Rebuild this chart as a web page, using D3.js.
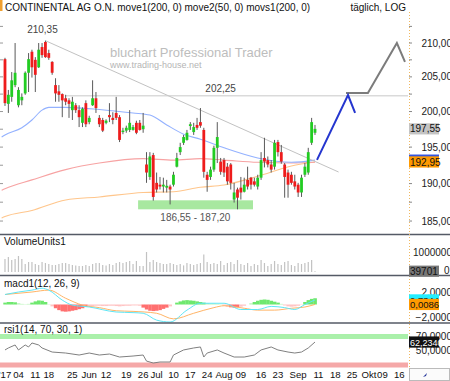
<!DOCTYPE html>
<html><head><meta charset="utf-8">
<script src="https://cdn.jsdelivr.net/npm/d3@7"></script>
<style>body{margin:0;background:#fff}svg{display:block;font-family:"Liberation Sans",Arial,sans-serif}</style>
</head><body><svg id="c" width="450" height="381"></svg>
<script>
const titleText = "CONTINENTAL AG O.N. move1(200, 0) move2(50, 0) movs1(200, 0)";
const modeText = "täglich, LOG";
const watermark1 = "bluchart Professional Trader";
const watermark2 = "www.trading-house.net";

const open  = [207.6,201.1,202.1,203.8,200.9,201.6,202.6,205.6,208.7,207.5,206.4,209.4,210.15,208.5,207.2,203.8,202.9,202.5,201.9,201.6,200.2,200.9,200.2,198.4,201.2,198.5,200.9,201.9,199.1,198.8,198.4,199.5,199.1,199.8,199.2,197.1,197.3,197.4,197.4,198.4,198.4,197.5,192.6,190.9,193.9,190.1,189.85,189.6,189.45,189.6,189.85,192.3,194.3,195.6,196.0,197.95,197.1,198.1,198.5,197.4,191.2,190.9,191.9,194.9,193.0,193.2,192.3,192.6,187.85,189.2,189.45,188.9,190.5,190.8,190.3,189.6,190.8,193.5,193.2,192.6,192.3,195.7,194.3,192.6,191.5,191.2,190.3,189.85,188.8,191.2,191.5,195.6,197.0];
const high  = [207.8,203.1,205.7,210.0,203.5,202.6,205.8,208.5,209.0,207.9,210.0,210.0,210.35,209.0,207.3,204.8,203.8,202.6,202.4,201.9,202.1,201.2,200.9,200.6,201.6,199.4,204.5,202.8,199.5,199.1,198.9,201.2,199.9,202.1,199.5,197.7,198.0,200.2,198.1,198.7,198.8,199.8,194.3,194.3,194.2,191.5,190.9,190.8,190.5,189.85,191.6,194.2,195.6,196.7,197.4,198.5,198.4,199.1,200.5,197.7,191.6,192.3,195.2,198.5,193.5,193.5,192.8,192.8,190.1,189.45,190.9,190.8,192.3,190.9,190.8,191.2,194.3,196.3,193.7,193.2,196.0,196.0,195.3,192.8,191.9,191.6,191.2,190.1,191.2,192.8,194.9,199.1,198.1];
const low   = [200.8,199.8,201.4,203.5,200.6,200.9,202.4,202.8,204.9,202.8,206.3,207.8,207.8,207.5,205.3,201.4,201.4,199.2,200.9,199.1,198.8,199.8,197.8,197.8,197.8,198.2,200.8,199.8,197.8,197.1,198.2,198.5,198.2,198.8,195.7,196.8,197.0,197.1,197.3,196.8,197.3,197.0,190.1,190.5,187.7,188.8,189.2,188.8,188.8,187.2,189.6,192.2,193.9,195.3,195.9,197.4,196.7,197.4,197.7,190.8,188.9,190.5,191.6,192.8,191.2,190.9,189.85,189.2,187.45,186.55,187.85,188.8,189.2,189.2,189.6,189.2,190.5,192.2,192.2,191.5,191.9,193.7,192.7,188.1,188.1,189.85,189.2,188.2,188.2,190.9,191.2,195.3,196.7];
const close = [201.2,202.4,204.5,205.6,203.1,202.1,205.6,207.6,206.4,205.3,209.0,208.2,207.9,207.8,205.6,202.6,202.4,201.6,201.4,201.1,201.4,200.2,199.2,200.4,198.2,199.1,201.9,200.5,198.2,197.3,198.7,199.2,198.8,199.1,196.0,197.3,197.7,198.4,197.8,197.0,197.4,198.0,191.5,193.7,188.2,189.2,189.6,189.85,189.7,189.2,191.2,193.5,195.0,196.4,197.0,198.2,197.8,197.7,198.0,191.6,190.5,191.9,194.9,196.4,191.6,191.5,190.3,190.1,188.8,188.1,188.8,189.85,189.6,189.85,189.85,190.8,193.2,193.0,192.6,191.9,195.6,194.3,193.0,190.9,189.85,190.1,189.6,188.8,190.8,192.3,194.3,198.5,197.55];
const volume = [650000,750000,600000,650000,800000,650000,400000,500000,500000,400000,350000,500000,450000,400000,350000,350000,400000,450000,450000,400000,350000,330000,300000,300000,350000,300000,400000,450000,450000,350000,330000,400000,350000,450000,500000,450000,500000,550000,400000,550000,300000,300000,1000000,500000,600000,500000,450000,400000,400000,450000,400000,350000,400000,330000,450000,400000,350000,400000,450000,870000,500000,400000,450000,400000,550000,350000,450000,500000,400000,600000,400000,350000,450000,300000,400000,350000,600000,450000,300000,400000,550000,400000,350000,500000,550000,350000,300000,450000,400000,450000,500000,600000,39701];

// moving averages (sampled: day index, value)
const ma50Idx  = [-1,0,5,8,11,13,18,28,38,43,48,53,58,65,75,85,92];
const ma50Val  = [196.4,196.7,197.7,198.8,200.2,200.6,200.6,200.3,199.8,199.5,198.1,196.8,196.1,194.9,193.5,192.9,193.2];
const ma200Idx = [-1,0,8,18,28,41,50,58,65,75,85,92];
const ma200Val = [189.1,189.3,190.5,191.9,192.8,193.4,193.2,193.4,193.2,192.9,192.8,192.9];
const movsIdx  = [-1,0,8,18,28,41,50,58,65,75,85,92];
const movsVal  = [185.4,185.6,186.4,187.8,188.2,188.8,188.9,189.5,189.8,191.0,192.4,192.95];

// drawn objects
const trendIdx = [12, 99];
const trendVal = [210.35, 191.57];
const resistance = 202.25;
const resistanceFrom = 18;
const supportLow = 186.55, supportHigh = 187.20;
const supportBand = [186.55, 187.75];
const supportFrom = 39.5, supportTo = 73.6;
const projBlueIdx = [92.6, 101.8, 103.9];
const projBlueVal = [193.24, 202.36, 199.8];
const projGrayIdx = [101.2, 107.7, 116.3, 118.7];
const projGrayVal = [202.65, 202.65, 210.0, 207.2];

// MACD
const macdIdx = [0,4,8,11,13,17,20,25,33,38,41,45,49,54,58,65,70,75,79,83,86,89,92];
const macdVal = [1.6,2.0,2.3,2.6,2.3,0.7,-0.1,-0.4,-1.2,-1.3,-1.4,-2.5,-2.8,-0.9,0.2,0.2,-0.8,-0.8,-0.3,-0.5,-0.8,0.0,0.7344];
const sigIdx  = [0,8,13,18,23,28,33,38,45,50,56,62,65,71,75,80,85,89,92];
const sigVal  = [1.6,2.0,2.3,1.0,-0.1,-0.5,-1.0,-1.1,-1.4,-2.3,-1.4,-0.5,-0.2,-0.6,-0.9,-0.9,-0.6,-0.4,0.0086];
const hist = [0.3,0.4,0.4,0.35,0.2, 0.1,0.05,0.1, 0.3,0.5,0.65,0.6,0.4, 0.05,
  -0.3,-0.6,-0.9,-1.1,-1.15,-1.1,-1.0,-0.9,-0.75,-0.6, -0.4,-0.3,
  -0.25,-0.2,-0.2,-0.25,-0.25,-0.2,-0.2,-0.25,-0.3,-0.25,-0.2,-0.2,-0.15,-0.15,-0.2,
  -0.5,-0.8,-1.0,-1.05,-1.0,-0.9,-0.7,-0.5,-0.3, 0.0,
  0.3,0.5,0.65,0.7,0.65,0.6,0.5,0.4,0.3, 0.2,0.15,0.15,0.1,0.05,
  -0.2,-0.35,-0.45,-0.5,-0.45,-0.35,-0.2, 0.0,
  0.2,0.4,0.6,0.75,0.8,0.75,0.6,0.45,0.3,0.1,
  -0.15,-0.3,-0.35,-0.3,-0.2,-0.05, 0.4,0.7,0.9,1.0];

// RSI
const rsiIdx = [0,1,3,4,6,7,8,10,11,14,18,22,25,28,31,34,38,41,42,44,46,49,50,53,56,58,59,60,63,65,68,71,74,76,79,81,84,86,88,90,92];
const rsiVal = [51.1,53.9,58.1,51.1,58.1,55.3,60.9,58.1,53.9,48.2,46.8,44.0,46.8,44.0,45.4,41.2,42.6,44.0,35.5,32.8,34.2,34.2,44.0,51.1,53.9,55.3,41.2,46.8,51.1,46.8,41.2,41.2,44.0,51.1,55.3,51.1,48.2,46.8,48.2,53.9,62.234];
const rsiLevels = [70, 30];

// axes
const priceTicks = [185,190,195,200,205,210];
const volTicks = [1000000];
const macdTicks = [2,-2];
const rsiTicks = [70,50];
const xTickIdx = [0,4,9,13,20,25,30,36,41,45,50,55,60,65,70,76,81,87,93,98,103,108,112,117];
const xTickLab = ["'17","04","11","18","25","Jun","12","19","26","Jul","10","17","24","Aug","09","16","23","Sep","11","18","25","Okt","09","16"];

// ---------- drawing ----------
const PR = 408;
const svg = d3.select("#c");
const x  = d3.scaleLinear().domain([-1.48,119.6]).range([0,PR]);
const y  = d3.scaleLog().domain([183.30,214.69]).range([234,12]);
const yV = d3.scaleLinear().domain([0,1e6]).range([272,252]);
const yM = d3.scaleLinear().domain([-2,2]).range([317,292]);
const yR = d3.scaleLinear().domain([30,70]).range([365,336.5]);
const loc = d3.formatLocale({decimal:",",thousands:"",grouping:[3],currency:["",""]});
const f2 = loc.format(".2f"), f4 = loc.format(".4f"), f0 = loc.format("d");

const defs = svg.append("defs");
defs.append("clipPath").attr("id","cm").append("rect").attr("x",0).attr("y",12).attr("width",PR).attr("height",222);
defs.append("clipPath").attr("id","cr").append("rect").attr("x",0).attr("y",323).attr("width",PR).attr("height",45);

svg.append("rect").attr("width",450).attr("height",381).attr("fill","#fff");
svg.append("rect").attr("x",0).attr("y",0).attr("width",2.5).attr("height",11).attr("fill","#f0a030");

svg.append("text").attr("x",5).attr("y",10.5).attr("font-size",10).attr("fill","#111").text(titleText);
svg.append("text").attr("x",406).attr("y",10.5).attr("text-anchor","end").attr("font-size",10).attr("fill","#111").text(modeText);

svg.append("text").attr("x",110).attr("y",56.5).attr("font-size",13).attr("fill","#bdbdbd").text(watermark1);
svg.append("text").attr("x",110).attr("y",67.5).attr("font-size",9).attr("fill","#b5b5b5").text(watermark2);

const gm = svg.append("g").attr("clip-path","url(#cm)");

// left minor ticks
const minorP = d3.range(185,214,2.5);
svg.append("g").selectAll("line").data(minorP).join("line")
  .attr("x1",0).attr("x2",3).attr("y1",d=>y(d)).attr("y2",d=>y(d)).attr("stroke","#999");

// support band
gm.append("rect").attr("x",x(supportFrom)).attr("width",x(supportTo)-x(supportFrom))
  .attr("y",y(supportBand[1])).attr("height",y(supportBand[0])-y(supportBand[1])).attr("fill","#a8e8a0");

// moving averages
const lineI = (idx,vals,ys)=>d3.line().x((d,i)=>x(idx[i])).y((d,i)=>ys(vals[i])).curve(d3.curveMonotoneX)(vals);
gm.append("path").attr("d",lineI(movsIdx,movsVal,y)).attr("fill","none").attr("stroke","#ffc68c").attr("stroke-width",1.1);
gm.append("path").attr("d",lineI(ma200Idx,ma200Val,y)).attr("fill","none").attr("stroke","#f7a3a3").attr("stroke-width",1.1);
gm.append("path").attr("d",lineI(ma50Idx,ma50Val,y)).attr("fill","none").attr("stroke","#94b2ff").attr("stroke-width",1.1);

// trendline & resistance
gm.append("line").attr("x1",x(trendIdx[0])).attr("y1",y(trendVal[0])).attr("x2",x(trendIdx[1])).attr("y2",y(trendVal[1]))
  .attr("stroke","#c2c2c2").attr("stroke-width",1);
gm.append("line").attr("x1",x(resistanceFrom)).attr("x2",PR).attr("y1",y(resistance)).attr("y2",y(resistance))
  .attr("stroke","#c8c8c8").attr("stroke-width",1);

// candles
const cIdx = d3.range(open.length);
gm.append("g").selectAll("line").data(cIdx).join("line")
  .attr("x1",i=>x(i)).attr("x2",i=>x(i)).attr("y1",i=>y(high[i])).attr("y2",i=>y(low[i]))
  .attr("stroke","#5a5a5a").attr("stroke-width",1);
gm.append("g").selectAll("rect").data(cIdx).join("rect")
  .attr("x",i=>x(i)-1.4).attr("width",2.8)
  .attr("y",i=>y(Math.max(open[i],close[i])))
  .attr("height",i=>Math.max(1,Math.abs(y(open[i])-y(close[i]))))
  .attr("fill",i=>close[i]>=open[i]?"#22cc22":"#ee1c1c");

// projections
const lineP = (idx,vals)=>d3.line().x((d,i)=>x(idx[i])).y((d,i)=>y(vals[i]))(vals);
gm.append("path").attr("d",lineP(projGrayIdx,projGrayVal)).attr("fill","none").attr("stroke","#7c7c7c").attr("stroke-width",2);
gm.append("path").attr("d",lineP(projBlueIdx,projBlueVal)).attr("fill","none").attr("stroke","#2536cf").attr("stroke-width",2);

// annotations
const hiI = high.indexOf(d3.max(high));
svg.append("text").attr("x",x(hiI)-3).attr("y",y(high[hiI])-8).attr("text-anchor","middle").attr("font-size",10).attr("fill","#444").text(f2(high[hiI]));
svg.append("text").attr("x",x(64)).attr("y",y(resistance)-4).attr("text-anchor","middle").attr("font-size",10).attr("fill","#444").text(f2(resistance));
svg.append("text").attr("x",x(56.5)).attr("y",y(supportLow)+12).attr("text-anchor","middle").attr("font-size",10).attr("fill","#555").text(f2(supportLow)+" - "+f2(supportHigh));

// volume
svg.append("g").selectAll("line").data(cIdx).join("line")
  .attr("x1",i=>x(i)).attr("x2",i=>x(i)).attr("y1",yV(0)).attr("y2",i=>yV(volume[i]))
  .attr("stroke","#c2c2c2").attr("stroke-width",1.2);

// MACD histogram
const stepW = x(1)-x(0);
svg.append("g").selectAll("rect").data(cIdx).join("rect")
  .attr("x",i=>x(i)-stepW/2).attr("width",stepW+0.2)
  .attr("y",i=>Math.min(yM(0),yM(hist[i]))).attr("height",i=>Math.abs(yM(hist[i])-yM(0)))
  .attr("fill",i=>hist[i]>=0?(hist[i]>0.25?"#6ee86e":"#b8f5b8"):(hist[i]<-0.35?"#ff7070":"#ffc4c4"));
svg.append("path").attr("d",lineI(sigIdx,sigVal,yM)).attr("fill","none").attr("stroke","#ffb466").attr("stroke-width",1);
svg.append("path").attr("d",lineI(macdIdx,macdVal,yM)).attr("fill","none").attr("stroke","#5fe6f5").attr("stroke-width",1);

// RSI
const colL = {70:"#aaf0aa",30:"#f5a8a8"};
svg.append("g").selectAll("line").data(rsiLevels).join("line")
  .attr("x1",0).attr("x2",PR).attr("y1",d=>yR(d)).attr("y2",d=>yR(d)).attr("stroke",d=>colL[d]).attr("stroke-width",5);
svg.append("path").attr("clip-path","url(#cr)").attr("d",d3.line().x((d,i)=>x(rsiIdx[i])).y(d=>yR(d))(rsiVal))
  .attr("fill","none").attr("stroke","#808080").attr("stroke-width",1);

// panel labels
svg.append("text").attr("x",4).attr("y",244.5).attr("font-size",10).attr("fill","#111").text("VolumeUnits1");
svg.append("text").attr("x",4).attr("y",287).attr("font-size",10).attr("fill","#111").text("macd1(12, 26, 9)");
svg.append("text").attr("x",4).attr("y",333).attr("font-size",10).attr("fill","#111").text("rsi1(14, 70, 30, 1)");

// separators
[234.5,275.5,323].forEach(v=>svg.append("line").attr("x1",0).attr("x2",450).attr("y1",v).attr("y2",v).attr("stroke","#555a66").attr("stroke-width",1.5));

// right axis
svg.append("line").attr("x1",409.5).attr("x2",409.5).attr("y1",12).attr("y2",368).attr("stroke","#f0b860").attr("stroke-dasharray","1,2");
svg.append("g").selectAll("line").data(minorP).join("line")
  .attr("x1",409).attr("x2",412).attr("y1",d=>y(d)).attr("y2",d=>y(d)).attr("stroke","#888");
const rLab = (vals,sc,fmt)=>svg.append("g").selectAll("text").data(vals).join("text")
  .attr("x",452).attr("y",d=>sc(d)+3.5).attr("text-anchor","end").attr("font-size",10).attr("fill","#222").text(fmt);
rLab(priceTicks,y,f2);
rLab(volTicks,yV,f0);
rLab(macdTicks,yM,f4);
rLab(rsiTicks,yR,f4);
svg.append("text").attr("x",444).attr("y",yV(0)+2).attr("font-size",10).attr("fill","#222").text("0");

function tag(v,sc,txt,bg,fg,fs){
  const cy = sc(v);
  svg.append("rect").attr("x",409).attr("y",cy-5.6).attr("width",30).attr("height",11.2).attr("fill",bg);
  svg.append("text").attr("x",410).attr("y",cy+3.6).attr("font-size",fs||10).attr("fill",fg).text(txt);
}
tag(close[close.length-1],y,f2(close[close.length-1]),"#c4c4c4","#111");
tag(ma50Val[ma50Val.length-1],y,"","#3355dd","#fff");
tag(movsVal[movsVal.length-1],y,f2(movsVal[movsVal.length-1]),"#ff9a00","#111");
tag(volume[volume.length-1],yV,f0(volume[volume.length-1]),"#777","#111");
tag(macdVal[macdVal.length-1],yM,f4(macdVal[macdVal.length-1]),"#22eeff","#111",9.5);
tag(sigVal[sigVal.length-1],yM,f4(sigVal[sigVal.length-1]),"#ff9a00","#111",9.5);
tag(rsiVal[rsiVal.length-1],yR,f4(rsiVal[rsiVal.length-1]),"#111","#fff",9);

// x axis
svg.append("g").selectAll("text").data(xTickIdx).join("text")
  .attr("x",d=>x(d)).attr("y",377.5).attr("text-anchor","middle").attr("font-size",9.6).attr("fill","#111")
  .text((d,i)=>xTickLab[i]);

// bottom-right box
svg.append("rect").attr("x",409.5).attr("y",368.5).attr("width",40).attr("height",12).attr("fill","#fbfbfb").attr("stroke","#bbb");
svg.append("path").attr("d","M423,377 L427,373 L426,376 Z").attr("fill","#223399");
</script>
</body></html>
